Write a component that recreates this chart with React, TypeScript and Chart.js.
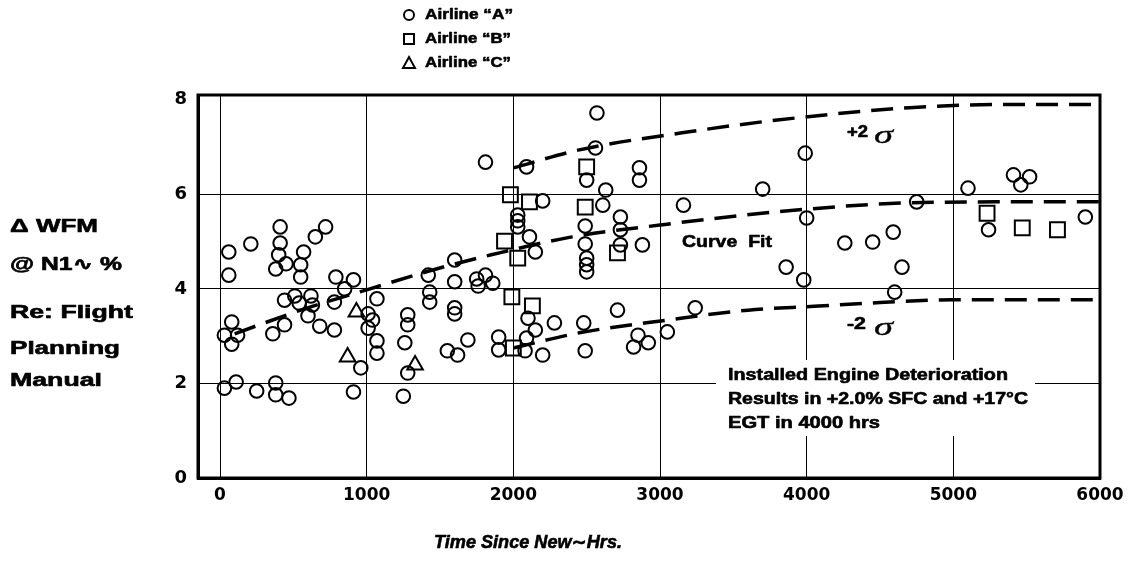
import React, { useEffect, useRef } from 'react';
import { Chart, registerables } from 'chart.js';

Chart.register(...registerables);

// ---------- data ----------
const xTicks = [0, 1000, 2000, 3000, 4000, 5000, 6000];
const yTicks = [0, 2, 4, 6, 8];

const airlineA_hours = [
  60, 60, 210, 410, 410, 400, 380, 450, 720, 650, 570, 550, 550, 790, 910, 850, 780, 440, 510, 540,
  620, 630, 600, 680, 780, 440, 360, 80, 30, 120, 80, 30, 110, 250, 380, 380, 470, 910, 960,
  1070, 1010, 1040, 1010, 1070, 1070, 1280, 1280, 1260, 1280, 1250, 1420, 1430, 1430, 1600, 1600,
  1600, 1600, 1550, 1620, 1690, 1750, 1810, 1860, 1760, 1810, 1900, 1900,
  2090, 2570, 2560, 2500, 2860, 2860, 2200, 2630, 2610, 2030, 2030, 2030, 2110, 2150, 2490, 2490,
  2500, 2500, 2500, 2730, 2730, 2730, 2880, 2100, 2150, 2090, 2280, 2480, 2710, 2080, 2200, 2490,
  2850, 2820, 2920, 3050, 3240, 3160, 3700,
  3860, 3980, 3990, 4000, 4750, 5100, 5410, 5520, 5460, 5240, 5900, 4260, 4450, 4590, 4650, 4600,
];
const airlineA_wfm = [
  4.78, 4.29, 4.95, 5.31, 4.97, 4.72, 4.42, 4.53, 5.31, 5.10, 4.78, 4.51, 4.25, 4.25, 4.19, 4.0, 3.72, 3.76, 3.85, 3.70,
  3.85, 3.66, 3.43, 3.21, 3.13, 3.24, 3.05, 3.30, 3.02, 3.02, 2.83, 1.90, 2.03, 1.84, 2.01, 1.76, 1.69, 1.82, 2.33,
  3.79, 3.47, 3.34, 3.17, 2.90, 2.64, 3.45, 3.24, 2.86, 2.22, 1.73, 4.29, 3.93, 3.72, 4.61, 4.15,
  3.60, 3.47, 2.69, 2.60, 2.92, 4.21, 4.29, 4.12, 4.06, 6.68, 2.98, 2.71,
  6.58, 7.72, 6.98, 6.30, 6.56, 6.30, 5.86, 6.09, 5.77, 5.56, 5.44, 5.31, 5.10, 4.78, 5.33, 4.95,
  4.65, 4.51, 4.36, 5.52, 5.25, 4.93, 4.93, 3.38, 3.13, 2.96, 3.28, 3.28, 3.55, 2.69, 2.60, 2.69,
  3.02, 2.77, 2.86, 3.09, 3.60, 5.77, 6.11,
  4.46, 4.19, 6.87, 5.50, 5.84, 6.13, 6.41, 6.37, 6.20, 5.25, 5.52, 4.97, 4.99, 5.20, 4.46, 3.93,
];

const airlineB_hours = [1940, 1980, 2110, 2030, 1990, 2130, 2000, 2500, 2490, 2710, 5230, 5470, 5710];
const airlineB_wfm = [5.01, 5.99, 5.84, 4.65, 3.83, 3.64, 2.75, 6.58, 5.73, 4.76, 5.60, 5.29, 5.25];

const airlineC_hours = [870, 930, 1330];
const airlineC_wfm = [2.56, 3.51, 2.39];

const curveFit_hours = [100, 550, 1000, 1450, 1850, 2400, 3000, 3800, 4700, 5400, 6000];
const curveFit_wfm = [3.05, 3.55, 3.98, 4.40, 4.72, 5.10, 5.35, 5.63, 5.82, 5.84, 5.84];

const upper_hours = [2000, 2450, 3150, 3800, 4700, 5400, 6000];
const upper_wfm = [6.56, 6.94, 7.30, 7.57, 7.83, 7.90, 7.90];

const lower_hours = [2000, 2450, 3050, 3600, 4050, 4500, 5000, 6000];
const lower_wfm = [2.75, 3.07, 3.34, 3.55, 3.63, 3.71, 3.77, 3.77];

const legendLabels = ['Airline \u201CA\u201D', 'Airline \u201CB\u201D', 'Airline \u201CC\u201D'];
const yTitleLines = ['\u0394 WFM', '@ N1\u223F %', 'Re: Flight', 'Planning', 'Manual'];
const xTitle = 'Time Since New\u223CHrs.';
const noteLines = ['Installed Engine Deterioration', 'Results in +2.0% SFC and +17\u00B0C', 'EGT in 4000 hrs'];
const curveFitLabel = 'Curve  Fit';
const sigmaUpper = '+2';
const sigmaLower = '-2';
const sigmaChar = '\u03C3';

function zip(xs: number[], ys: number[]) {
  return xs.map((x, i) => ({ x, y: ys[i] }));
}

const SANS = '"Liberation Sans", Arial, Helvetica, "DejaVu Sans", sans-serif';

function stretchText(
  ctx: CanvasRenderingContext2D,
  text: string,
  x: number,
  y: number,
  font: string,
  width: number,
  heavy = 0.6,
) {
  ctx.save();
  ctx.font = font;
  ctx.textBaseline = 'middle';
  ctx.textAlign = 'left';
  const w = ctx.measureText(text).width;
  ctx.translate(x, y);
  ctx.scale(width / w, 1);
  ctx.fillStyle = '#000';
  ctx.fillText(text, 0, 0);
  if (heavy > 0) {
    ctx.strokeStyle = '#000';
    ctx.lineWidth = heavy;
    ctx.lineJoin = 'round';
    ctx.strokeText(text, 0, 0);
  }
  ctx.restore();
}

const decorPlugin = {
  id: 'decor',
  beforeDatasetsDraw(chart: any) {
    const ctx = chart.ctx as CanvasRenderingContext2D;
    ctx.save();
    ctx.fillStyle = '#fff';
    ctx.fillRect(716, 360, 319, 76);
    ctx.restore();
  },
  afterDraw(chart: any) {
    const ctx = chart.ctx as CanvasRenderingContext2D;
    const a = chart.chartArea;
    ctx.save();
    // frame
    ctx.strokeStyle = '#000';
    ctx.lineWidth = 3;
    ctx.strokeRect(a.left, a.top, a.right - a.left, a.bottom - a.top);

    // legend
    const lx = 409;
    const rows = [15, 39, 63];
    ctx.lineWidth = 2;
    ctx.beginPath();
    ctx.arc(lx, rows[0], 5, 0, Math.PI * 2);
    ctx.stroke();
    ctx.strokeRect(lx - 5, rows[1] - 5, 10, 10);
    ctx.beginPath();
    ctx.moveTo(lx - 6, rows[2] + 5);
    ctx.lineTo(lx + 6, rows[2] + 5);
    ctx.lineTo(lx, rows[2] - 6);
    ctx.closePath();
    ctx.stroke();
    const legW = [88, 86, 86];
    legendLabels.forEach((t, i) => stretchText(ctx, t, 425, rows[i], `bold 15px ${SANS}`, legW[i]));

    // left title
    const ty = [227, 265, 313, 349, 381];
    const tw = [88, 112, 123, 110, 92];
    yTitleLines.forEach((t, i) => stretchText(ctx, t, 10, ty[i], `bold 18px ${SANS}`, tw[i]));

    // x title
    stretchText(ctx, xTitle, 434, 543, `italic bold 18px ${SANS}`, 188);

    // curve labels
    stretchText(ctx, curveFitLabel, 682, 242, `bold 17px ${SANS}`, 90);
    stretchText(ctx, sigmaUpper, 847, 133, `bold 16px ${SANS}`, 21);
    stretchText(ctx, sigmaChar, 874, 136, `italic 26px "Liberation Serif", "DejaVu Serif", serif`, 19, 0.3);
    stretchText(ctx, sigmaLower, 847, 325, `bold 16px ${SANS}`, 19);
    stretchText(ctx, sigmaChar, 874, 328, `italic 26px "Liberation Serif", "DejaVu Serif", serif`, 19, 0.3);

    // note
    const ny = [376, 400, 424];
    const nw = [280, 300, 152];
    noteLines.forEach((t, i) => stretchText(ctx, t, 728, ny[i], `bold 16px ${SANS}`, nw[i]));
    ctx.restore();
  },
};

export default function App() {
  const ref = useRef<HTMLCanvasElement>(null);

  useEffect(() => {
    const canvas = ref.current!;
    const curveStyle = {
      type: 'line' as const,
      showLine: true,
      borderColor: '#000',
      borderWidth: 3.5,
      borderDash: [22, 11],
      pointRadius: 0,
      fill: false,
      cubicInterpolationMode: 'monotone' as const,
    };
    const markerStyle = {
      borderWidth: 2,
      borderColor: '#000',
      backgroundColor: 'rgba(0,0,0,0)',
    };
    const chart = new Chart(canvas, {
      type: 'scatter',
      data: {
        datasets: [
          { label: legendLabels[0], data: zip(airlineA_hours, airlineA_wfm), pointStyle: 'circle', pointRadius: 6.8, ...markerStyle },
          { label: legendLabels[1], data: zip(airlineB_hours, airlineB_wfm), pointStyle: 'rect', pointRadius: 10.5, ...markerStyle },
          { label: legendLabels[2], data: zip(airlineC_hours, airlineC_wfm), pointStyle: 'triangle', pointRadius: 9, ...markerStyle },
          { label: 'Curve Fit', data: zip(curveFit_hours, curveFit_wfm), ...curveStyle } as any,
          { label: '+2 sigma', data: zip(upper_hours, upper_wfm), ...curveStyle } as any,
          { label: '-2 sigma', data: zip(lower_hours, lower_wfm), ...curveStyle } as any,
        ],
      },
      options: {
        responsive: false,
        animation: false,
        devicePixelRatio: 1,
        events: [],
        layout: { padding: { left: 0, right: 39, top: 95, bottom: 0 } },
        plugins: {
          legend: { display: false },
          tooltip: { enabled: false },
          title: { display: false },
        },
        scales: {
          x: {
            type: 'linear',
            min: -150,
            max: 6000,
            afterBuildTicks: (s: any) => {
              s.ticks = xTicks.map((v) => ({ value: v }));
            },
            afterFit: (s: any) => {
              s.height = 87;
            },
            grid: { color: '#000', lineWidth: 1, drawTicks: false },
            border: { display: true, color: '#000', width: 3 },
            ticks: {
              color: '#000',
              padding: 7,
              maxRotation: 0,
              autoSkip: false,
              callback: (v: any) => String(v),
              font: { family: '"DejaVu Sans", sans-serif', weight: 'bold', size: 17 },
            },
          },
          y: {
            type: 'linear',
            min: 0,
            max: 8.1,
            afterBuildTicks: (s: any) => {
              s.ticks = yTicks.map((v) => ({ value: v }));
            },
            afterFit: (s: any) => {
              s.width = 198;
            },
            grid: {
              color: (c: any) => (c.tick && c.tick.value === 8 ? 'rgba(0,0,0,0)' : '#000'),
              lineWidth: 1,
              drawTicks: false,
            },
            border: { display: true, color: '#000', width: 3 },
            ticks: {
              color: '#000',
              padding: 11,
              callback: (v: any) => String(v),
              font: { family: '"DejaVu Sans", sans-serif', weight: 'bold', size: 18 },
            },
          },
        },
      } as any,
      plugins: [decorPlugin],
    });
    return () => chart.destroy();
  }, []);

  return (
    <div style={{ position: 'fixed', left: 0, top: 0, width: 1139, height: 565, background: '#fff' }}>
      <canvas ref={ref} width={1139} height={565} style={{ display: 'block' }} />
    </div>
  );
}
